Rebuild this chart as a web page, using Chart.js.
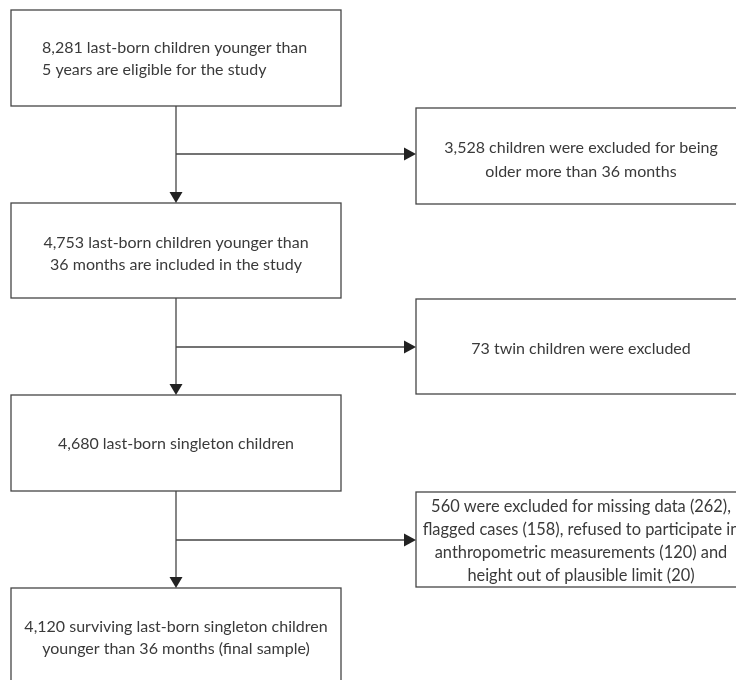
<!DOCTYPE html>
<html>
<head>
<meta charset="utf-8">
<script src="https://cdn.jsdelivr.net/npm/chart.js@4.4.1/dist/chart.umd.min.js"></script>
<style>
  html, body { margin: 0; padding: 0; background: #fff; }
  #wrap { width: 736px; height: 680px; }
</style>
</head>
<body>
<div id="wrap"><canvas id="flowChart"></canvas></div>
<script>
// Flow steps (left column) and exclusions (right column)
const mainSteps = [
    ['8,281 last-born children younger than', '5 years are eligible for the study'],
    ['4,753 last-born children younger than', '36 months are included in the study'],
    ['4,680 last-born singleton children'],
    ['4,120 surviving last-born singleton children', 'younger than 36 months (final sample)']
];
const exclusions = [
    ['3,528 children were excluded for being', 'older more than 36 months'],
    ['73 twin children were excluded'],
    ['560 were excluded for missing data (262),', 'flagged cases (158), refused to participate in',
     'anthropometric measurements (120) and', 'height out of plausible limit (20)']
];

// Layout (in axis units, 1 unit = 1 px of the 736x680 frame)
const mainX = [11, 341];
const mainRows = [[10, 106], [203, 298], [395, 491], [588, 686]];
const mainTextShift = [1, 3, 1, 1];
const sideX = [416, 746];
const sideRows = [[108, 204], [299, 394], [492, 587]];
const sideTextShift = [4, 2, 2];
const sideLineHeight = [24, 24, 23];
const trunkX = 176;
const branchY = [154, 347, 540];

const lineColor = '#454545';
const textColor = '#3a3a3a';

function drawArrowHead(ctx, x, y, dir) {
    ctx.beginPath();
    if (dir === 'down') {
        ctx.moveTo(x, y);
        ctx.lineTo(x - 6.5, y - 11);
        ctx.lineTo(x + 6.5, y - 11);
    } else {
        ctx.moveTo(x, y);
        ctx.lineTo(x - 12, y - 6.5);
        ctx.lineTo(x - 12, y + 6.5);
    }
    ctx.closePath();
    ctx.fill();
}

const flowPlugin = {
    id: 'flow',
    afterDatasetsDraw(chart) {
        const ctx = chart.ctx;
        const xs = chart.scales.x, ys = chart.scales.y;
        const px = v => xs.getPixelForValue(v);
        const py = v => ys.getPixelForValue(v);

        ctx.save();
        ctx.strokeStyle = lineColor;
        ctx.fillStyle = '#222';
        ctx.lineWidth = 1.3;

        // boxes
        mainRows.forEach(r => ctx.strokeRect(px(mainX[0]), py(r[0]), px(mainX[1]) - px(mainX[0]), py(r[1]) - py(r[0])));
        sideRows.forEach(r => ctx.strokeRect(px(sideX[0]), py(r[0]), px(sideX[1]) - px(sideX[0]), py(r[1]) - py(r[0])));

        // connectors
        for (let i = 0; i < branchY.length; i++) {
            const top = mainRows[i][1], bottom = mainRows[i + 1][0];
            ctx.beginPath();
            ctx.moveTo(px(trunkX), py(top));
            ctx.lineTo(px(trunkX), py(bottom) - 8);
            ctx.moveTo(px(trunkX), py(branchY[i]));
            ctx.lineTo(px(sideX[0]) - 8, py(branchY[i]));
            ctx.stroke();
            drawArrowHead(ctx, px(trunkX), py(bottom), 'down');
            drawArrowHead(ctx, px(sideX[0]), py(branchY[i]), 'right');
        }

        // texts
        ctx.fillStyle = textColor;
        ctx.textBaseline = 'middle';
        ctx.font = '16px Lato';
        mainSteps.forEach((lines, i) => {
            const r = mainRows[i];
            const cy = (py(r[0]) + py(r[1])) / 2 + mainTextShift[i];
            const lh = 22;
            const y0 = cy - (lines.length - 1) * lh / 2;
            let cx = (px(mainX[0]) + px(mainX[1])) / 2;
            if (i === 0) {
                ctx.textAlign = 'left';
                cx = px(42);
            } else {
                ctx.textAlign = 'center';
            }
            lines.forEach((t, j) => ctx.fillText(t, cx, y0 + j * lh));
        });
        ctx.textAlign = 'center';
        exclusions.forEach((lines, i) => {
            const r = sideRows[i];
            ctx.font = lines.length > 2 ? '16.4px Lato' : '16px Lato';
            const lh = sideLineHeight[i];
            const cy = (py(r[0]) + py(r[1])) / 2 + sideTextShift[i];
            const y0 = cy - (lines.length - 1) * lh / 2;
            const cx = px(581);
            lines.forEach((t, j) => ctx.fillText(t, cx, y0 + j * lh));
        });
        ctx.restore();
    }
};

const flowCtx = document.getElementById('flowChart').getContext('2d');
const flowChart = new Chart(flowCtx, {
    type: 'scatter',
    data: { datasets: [{ data: [], pointRadius: 0 }] },
    options: {
        responsive: true,
        maintainAspectRatio: false,
        animation: false,
        layout: { padding: 0 },
        plugins: { legend: { display: false }, tooltip: { enabled: false } },
        scales: {
            x: { type: 'linear', min: 0, max: 736, display: false },
            y: { type: 'linear', min: 0, max: 680, reverse: true, display: false }
        }
    },
    plugins: [flowPlugin]
});
</script>
</body>
</html>
